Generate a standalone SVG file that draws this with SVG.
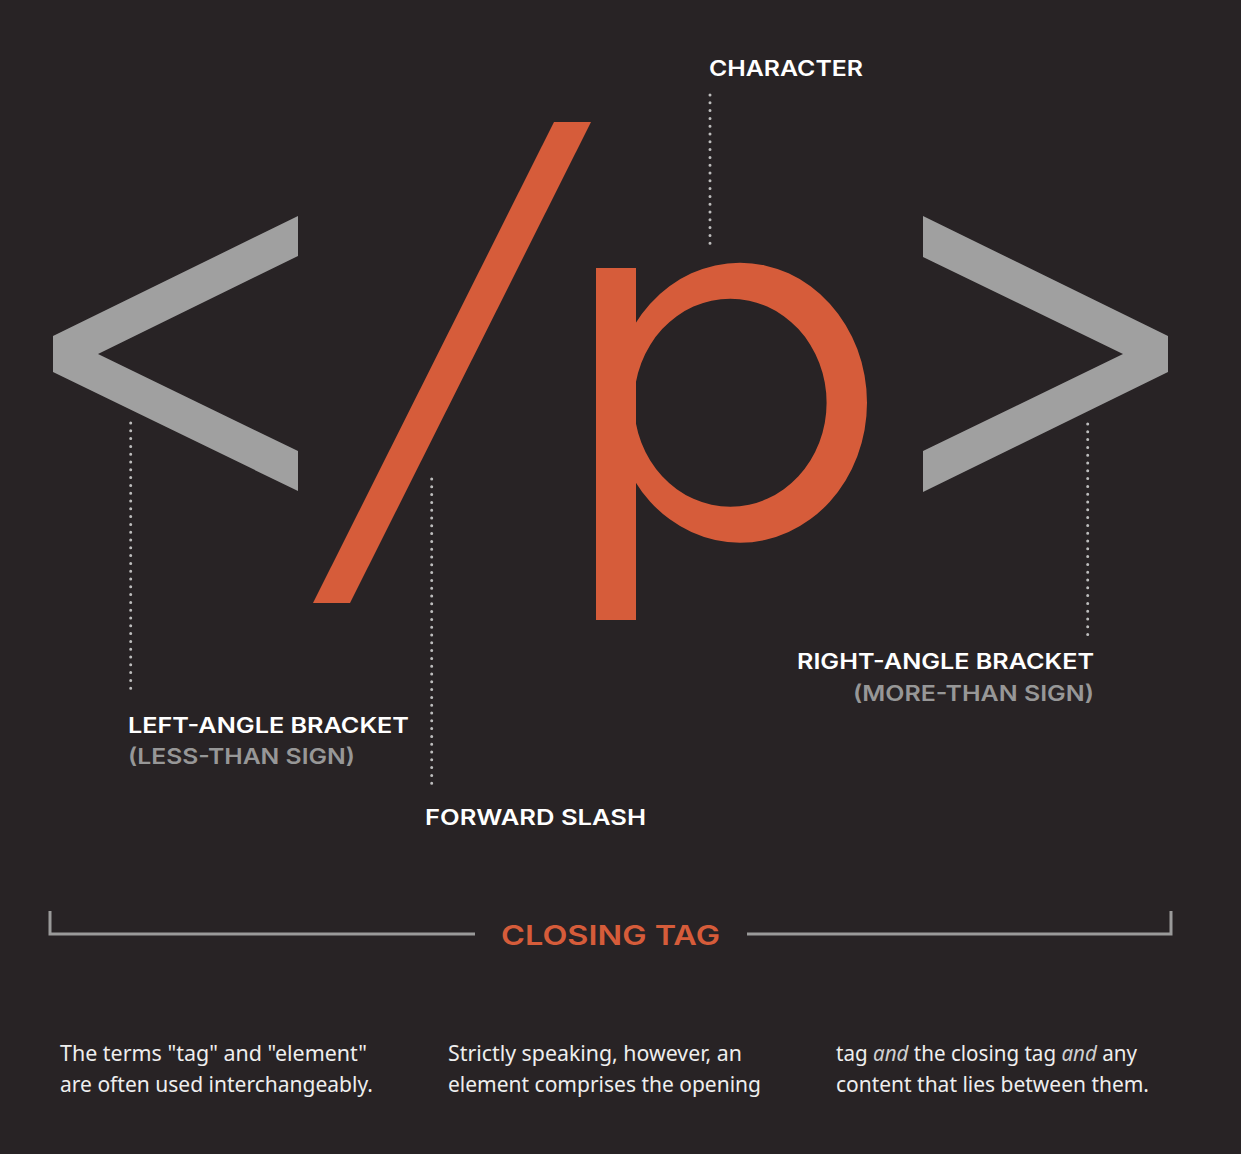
<svg xmlns="http://www.w3.org/2000/svg" width="1241" height="1154" viewBox="0 0 1241 1154">
<style>
.bg{fill:#282325}
.gray{fill:#a0a0a0}
.orange{fill:#d65c3a}
.lbl{font-family:Inter,"Liberation Sans",sans-serif;font-weight:600;font-size:21.5px;fill:#ffffff}
.sub{font-family:Inter,"Liberation Sans",sans-serif;font-weight:600;font-size:21.5px;fill:#979797}
.title{font-family:Inter,"Liberation Sans",sans-serif;font-weight:600;font-size:27px;fill:#d65c3a}
.body{font-family:"Noto Sans","Open Sans",sans-serif;font-size:21px;fill:#eeeeee}
.dot{fill:none;stroke:#bdbdbd;stroke-width:3;stroke-linecap:round;stroke-dasharray:0 7.8}
.rule{fill:none;stroke:#9a9a9a;stroke-width:3}
</style>
<rect class="bg" x="0" y="0" width="1241" height="1154"/>
<g id="left-bracket">
<polygon class="gray" points="298,216 53,336 53,372 298,491 298,451 98,354 298,256"/>
</g>
<g id="slash">
<polygon class="orange" points="554,122 591,122 350,603 313,603"/>
</g>
<g id="character-p">
<path class="orange" fill-rule="evenodd" d="M867,402.7 A127,140 0 1 1 613,402.7 A127,140 0 1 1 867,402.7 Z M826.6,402.7 A96.3,104 0 1 0 634,402.7 A96.3,104 0 1 0 826.6,402.7 Z"/>
<rect class="orange" x="596" y="268" width="40" height="352"/>
</g>
<g id="right-bracket">
<polygon class="gray" points="923,216 1168,336 1168,372 923,492 923,451 1123,354 923,257"/>
</g>
<g id="connectors">
<line class="dot" x1="130.7" y1="423" x2="130.7" y2="692"/>
<line class="dot" x1="431.7" y1="479" x2="431.7" y2="791"/>
<line class="dot" x1="710" y1="95" x2="710" y2="246"/>
<line class="dot" x1="1087.7" y1="424" x2="1087.7" y2="642"/>
</g>
<g id="label-character">
<text class="lbl" x="709" y="76" textLength="154" lengthAdjust="spacingAndGlyphs">CHARACTER</text>
</g>
<g id="label-left">
<text class="lbl" x="128" y="732.5" textLength="281" lengthAdjust="spacingAndGlyphs">LEFT-ANGLE BRACKET</text>
<text class="sub" x="128" y="764" textLength="227" lengthAdjust="spacingAndGlyphs">(LESS-THAN SIGN)</text>
</g>
<g id="label-slash">
<text class="lbl" x="425" y="825" textLength="221" lengthAdjust="spacingAndGlyphs">FORWARD SLASH</text>
</g>
<g id="label-right">
<text class="lbl" x="797" y="669" textLength="297" lengthAdjust="spacingAndGlyphs">RIGHT-ANGLE BRACKET</text>
<text class="sub" x="853" y="701" textLength="241" lengthAdjust="spacingAndGlyphs">(MORE-THAN SIGN)</text>
</g>
<g id="closing-tag">
<polyline class="rule" points="50,911 50,934 475,934"/>
<polyline class="rule" points="747,934 1171,934 1171,911"/>
<text class="title" x="501" y="944.5" textLength="219" lengthAdjust="spacingAndGlyphs">CLOSING TAG</text>
</g>
<g id="body-text">
<text class="body" x="60" y="1061" textLength="307" lengthAdjust="spacingAndGlyphs">The terms "tag" and "element"</text>
<text class="body" x="60" y="1092" textLength="313" lengthAdjust="spacingAndGlyphs">are often used interchangeably.</text>
<text class="body" x="448" y="1061" textLength="294" lengthAdjust="spacingAndGlyphs">Strictly speaking, however, an</text>
<text class="body" x="448" y="1092" textLength="313" lengthAdjust="spacingAndGlyphs">element comprises the opening</text>
<text class="body" x="836" y="1061" textLength="301" lengthAdjust="spacingAndGlyphs">tag <tspan font-style="italic" fill="#cfcfcf">and</tspan> the closing tag <tspan font-style="italic" fill="#cfcfcf">and</tspan> any</text>
<text class="body" x="836" y="1092" textLength="313" lengthAdjust="spacingAndGlyphs">content that lies between them.</text>
</g>
</svg>
